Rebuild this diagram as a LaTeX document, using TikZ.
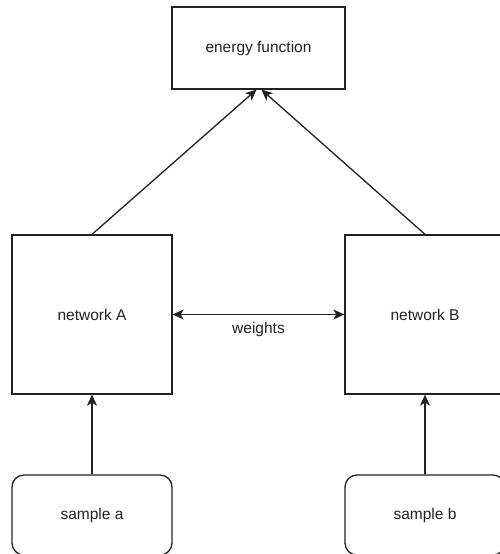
\documentclass[tikz,border=0pt]{standalone}
\usepackage{fontspec}
\setmainfont{Liberation Sans}
\usetikzlibrary{arrows.meta}
\definecolor{ink}{HTML}{222222}

\begin{document}
\begin{tikzpicture}[x=1pt, y=-1pt,
		box/.style={draw=ink, line width=1.3pt, text=ink, font=\fontsize{15.5}{18}\selectfont, inner sep=0pt},
		roundbox/.style={box, rounded corners=12pt},
		tip/.tip={Stealth[length=11pt, width=10pt, inset=3pt]},
		link/.style={draw=ink, line width=1.3pt, -tip}]
		\useasboundingbox (0, 0) rectangle (499, 554);
		\node [box, minimum width=173pt, minimum height=82pt] (energy) at (258.5, 48) {energy function};
		\node [box, minimum width=160pt, minimum height=159pt] (netA) at (92, 314.5) {network A};
		\node [box, minimum width=160pt, minimum height=159pt] (netB) at (425, 314.5) {network B};
		\node [roundbox, minimum width=160pt, minimum height=80pt] (smpA) at (92, 515) {sample a};
		\node [roundbox, minimum width=160pt, minimum height=80pt] (smpB) at (425, 515) {sample b};
		\draw [link] (netA.north) -- ([xshift=-2pt]energy.south);
		\draw [link] (netB.north) -- ([xshift=3pt]energy.south);
		\draw [link, tip-tip] (netA.east) -- node [below=4pt, text=ink, font=\fontsize{15.5}{18}\selectfont] {weights} (netB.west);
		\draw [link] (smpA.north) -- (netA.south);
		\draw [link] (smpB.north) -- (netB.south);
	\end{tikzpicture}
\end{document}
